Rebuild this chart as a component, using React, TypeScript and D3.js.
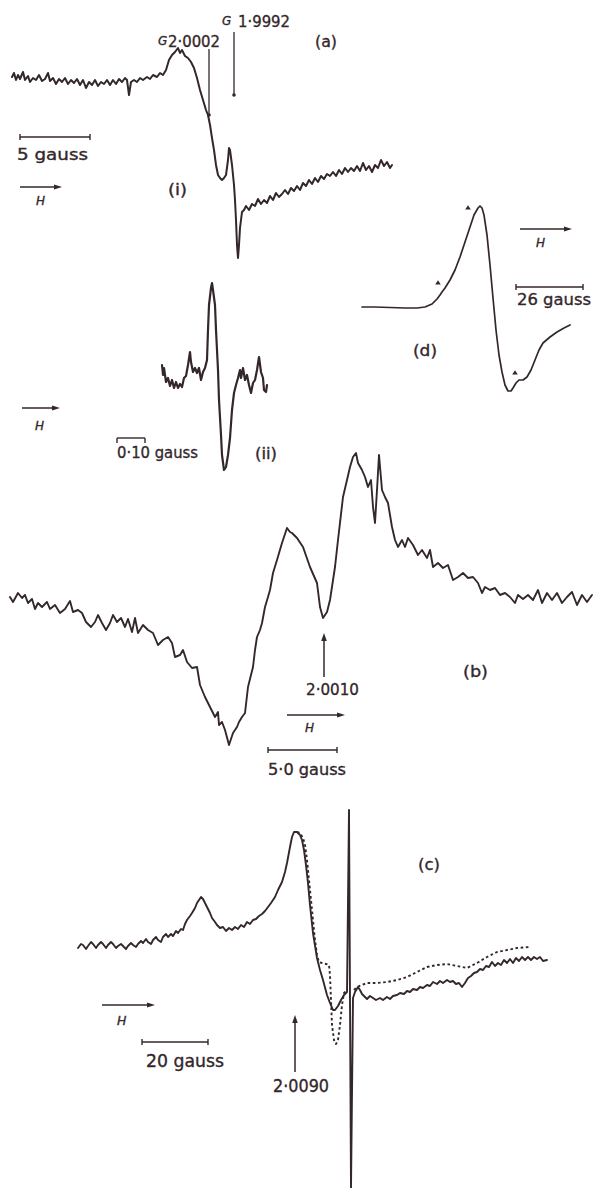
import React from "react";
import * as d3 from "d3";

const INK = "#34272b";
const FONT = "'DejaVu Sans', 'Noto Sans', sans-serif";

type Pt = [number, number];

// ---------- Panel (a)(i): field (arb. units), signal (arb. units, + up) ----------
const traceAi: Pt[] = [
  [0, 3], [2, 7], [4, 0], [6, 5], [8, 1], [11, 8], [13, 0], [16, 4], [18, -2], [21, 2], [24, 0], [27, 5],
  [30, -1], [33, 1], [36, 7], [38, -1], [41, 2], [44, -4], [47, 1], [50, -2], [53, 2], [56, -4], [59, 0],
  [62, -3], [65, 1], [68, -5], [71, 0], [74, -8], [77, -2], [80, -5], [83, 0], [86, -6], [89, -2], [92, -4],
  [95, 0], [98, -5], [101, 0], [104, -4], [107, 1], [110, -2], [113, 2], [115, 0], [117, -15], [119, -2],
  [122, 0], [125, -2], [128, 2], [131, 0], [135, 3], [138, 1], [141, 5], [145, 3], [148, 7], [151, 5],
  [154, 10], [157, 20], [160, 25], [163, 28], [166, 32], [168, 27], [170, 30], [173, 24], [176, 22],
  [179, 18], [182, 12], [185, 2], [188, -10], [191, -20], [194, -30], [196, -35], [198, -45], [200, -58],
  [202, -70], [204, -85], [206, -95], [208, -98], [210, -100], [212, -98], [214, -95], [216, -80],
  [217, -68], [218, -70], [220, -85], [222, -105], [223, -120], [224, -140], [225, -165], [226, -178],
  [227, -165], [228, -148], [230, -132], [232, -130], [234, -126], [237, -130], [240, -124], [243, -126],
  [246, -119], [249, -124], [252, -120], [255, -123], [258, -116], [261, -120], [264, -113], [267, -117],
  [270, -114], [273, -110], [276, -114], [279, -108], [282, -111], [285, -106], [288, -110], [291, -103],
  [294, -106], [297, -100], [300, -104], [303, -98], [306, -102], [309, -96], [312, -99], [315, -94],
  [318, -96], [321, -92], [324, -96], [327, -90], [330, -94], [333, -88], [336, -92], [339, -88],
  [342, -91], [345, -86], [348, -91], [351, -83], [354, -90], [357, -86], [360, -92], [363, -85],
  [366, -88], [369, -80], [372, -86], [375, -82], [378, -88], [380, -85],
];

// ---------- Panel (a)(ii) ----------
const traceAii: Pt[] = [
  [0, 15], [1, 5], [2, 12], [4, -2], [6, 2], [8, -6], [10, 0], [12, -8], [14, -2], [16, -8], [18, -4],
  [20, -7], [22, 2], [24, 4], [26, 15], [28, 28], [29, 18], [31, 8], [33, 12], [35, 7], [37, 12], [39, 0],
  [41, 8], [43, 12], [45, 20], [46, 50], [47, 75], [49, 92], [50, 97], [51, 90], [53, 75], [54, 50],
  [56, 10], [57, -20], [59, -55], [60, -75], [62, -90], [64, -87], [66, -75], [68, -58], [70, -30],
  [72, -13], [74, -5], [76, 2], [78, 10], [79, 2], [81, 12], [83, 0], [85, 5], [87, -5], [89, -13],
  [91, -3], [93, 0], [95, 10], [97, 23], [99, 8], [101, 2], [102, -10], [104, -12], [105, -5],
];

// ---------- Panel (d) ----------
const traceD: Pt[] = [
  [0, 0], [13, 0], [28, -0.5], [43, -1], [55, -1], [63, 0], [70, 3], [75, 8], [78, 12], [80, 15],
  [83, 19], [88, 27], [93, 37], [98, 50], [103, 65], [108, 80], [112, 92], [116, 99], [118, 101],
  [120, 99], [122, 92], [125, 72], [128, 42], [131, 9], [134, -23], [137, -48], [140, -65], [143, -78],
  [146, -84], [149, -84], [151, -81], [154, -76], [157, -73], [161, -73], [165, -70], [169, -63],
  [173, -53], [177, -43], [181, -36], [188, -30], [195, -25], [202, -21], [208, -18],
];
const marksD: Pt[] = [[106, 99], [76, 24], [153, -66]];

// ---------- Panel (b) ----------
const traceB: Pt[] = [
  [0, 0], [3, -5], [8, 4], [12, -1], [15, 2], [18, -6], [22, -2], [25, -12], [28, -6], [32, -10],
  [37, -5], [40, -12], [45, -8], [50, -16], [55, -12], [60, -4], [63, -15], [68, -13], [72, -16],
  [76, -25], [81, -30], [85, -25], [88, -18], [92, -26], [96, -33], [100, -26], [103, -18], [107, -25],
  [111, -21], [115, -30], [118, -22], [122, -35], [125, -21], [128, -36], [133, -28], [138, -33],
  [143, -36], [148, -48], [153, -43], [158, -40], [162, -46], [165, -60], [170, -58], [173, -53],
  [177, -65], [182, -71], [187, -70], [190, -88], [195, -100], [200, -110], [205, -120], [208, -115],
  [209, -128], [212, -125], [215, -133], [219, -148], [223, -136], [227, -130], [229, -125], [232, -120],
  [235, -116], [238, -90], [241, -78], [243, -70], [245, -53], [247, -40], [250, -33], [252, -26],
  [255, -10], [258, 0], [260, 7], [263, 24], [267, 37], [272, 54], [277, 69], [280, 65], [282, 64],
  [287, 59], [293, 50], [300, 30], [307, 14], [310, -10], [313, -21], [317, -15], [320, -3], [325, 30],
  [328, 57], [333, 100], [337, 117], [340, 130], [343, 140], [346, 144], [348, 134], [352, 127],
  [355, 120], [358, 110], [361, 117], [363, 90], [365, 74], [367, 107], [369, 142], [372, 107],
  [375, 100], [378, 94], [382, 70], [385, 57], [388, 50], [392, 57], [395, 50], [398, 59], [403, 52],
  [408, 42], [412, 47], [417, 39], [420, 47], [423, 30], [428, 34], [433, 29], [438, 32], [443, 17],
  [448, 20], [453, 24], [458, 19], [463, 20], [468, 14], [472, 4], [475, 10], [480, 7], [485, 9],
  [490, 2], [495, 4], [500, 0], [505, -6], [508, 2], [513, -2], [518, 2], [523, -3], [528, 7], [532, -6],
  [537, 4], [542, -3], [547, 4], [552, -6], [557, 0], [562, 5], [567, -8], [572, 2], [577, -5], [582, 2],
];

// ---------- Panel (c) ----------
const traceC: Pt[] = [
  [0, 0], [3, 4], [5, 3], [8, -1], [10, 2], [13, 6], [15, 4], [18, 0], [20, 3], [23, 6], [25, 4], [28, 0],
  [30, 3], [33, 6], [35, 4], [38, 0], [40, 2], [43, 4], [45, 2], [48, -1], [50, 2], [53, 5], [55, 3],
  [58, 1], [60, 4], [63, 7], [65, 5], [68, 9], [70, 6], [73, 4], [75, 8], [78, 11], [80, 8], [83, 6],
  [85, 11], [88, 14], [90, 11], [93, 14], [95, 12], [98, 17], [100, 15], [103, 19], [105, 18], [107, 24],
  [109, 28], [112, 32], [114, 35], [117, 40], [119, 45], [121, 48], [123, 51], [125, 49], [127, 45],
  [129, 41], [132, 35], [134, 30], [137, 26], [139, 23], [142, 20], [145, 21], [148, 17], [151, 20],
  [154, 18], [157, 21], [160, 19], [163, 23], [166, 21], [169, 26], [172, 24], [175, 28], [178, 29],
  [181, 32], [184, 34], [187, 37], [190, 41], [193, 45], [197, 51], [200, 58], [204, 66], [207, 76],
  [209, 85], [212, 101], [214, 111], [216, 116], [219, 116], [222, 113], [224, 108], [226, 98], [228, 83],
  [230, 65], [232, 43], [235, 15], [239, -10], [242, -22], [245, -32], [249, -47], [252, -55], [255, -62],
  [257, -62], [260, -58], [263, -52], [266, -47], [269, -44], [271, 138], [273, -240], [275, -50],
  [277, -44], [280, -39], [282, -42], [284, -46], [287, -49], [289, -51], [292, -48], [295, -50],
  [298, -52], [302, -50], [305, -52], [309, -49], [312, -51], [315, -48], [319, -47], [322, -45],
  [326, -46], [329, -43], [332, -44], [335, -41], [339, -42], [342, -39], [345, -40], [349, -37],
  [352, -38], [355, -34], [359, -36], [362, -33], [365, -35], [369, -32], [372, -34], [375, -33],
  [378, -36], [381, -35], [384, -39], [387, -35], [390, -30], [393, -28], [396, -25], [399, -24],
  [402, -21], [405, -22], [408, -18], [411, -19], [414, -14], [417, -18], [420, -15], [423, -17],
  [426, -12], [429, -15], [432, -11], [435, -15], [438, -10], [441, -13], [444, -9], [447, -12],
  [450, -9], [453, -12], [456, -9], [459, -11], [462, -9], [465, -13], [469, -12],
];
const traceCDotted: (Pt | null)[] = [
  [219, 116], [222, 115], [225, 110], [227, 103], [229, 88], [231, 68], [233, 48], [235, 28], [237, 8],
  [239, -7], [241, -14], [244, -15], [248, -16], [251, -17], [252, -27], [253, -52], [254, -77],
  [256, -92], [258, -96], [260, -92], [262, -77], [264, -57], [266, -45], [269, -42], null,
  [276, -42], [279, -39], [284, -37], [289, -35], [299, -35], [309, -34], [319, -32], [329, -29],
  [339, -24], [349, -19], [359, -17], [369, -16], [379, -18], [389, -20], [399, -15], [409, -9],
  [419, -4], [429, -2], [439, 0], [452, 1],
];

// ---------- scales (one pair per panel) ----------
function makeScales(fd: number[], pr: number[], sd: number[], vr: number[]) {
  return { x: d3.scaleLinear().domain(fd).range(pr), y: d3.scaleLinear().domain(sd).range(vr) };
}
type Sc = ReturnType<typeof makeScales>;
const sA = makeScales([0, 380], [12, 392], [-180, 40], [260, 40]);
const sAii = makeScales([0, 105], [162, 267], [-100, 100], [480, 280]);
const sD = makeScales([0, 208], [362, 570], [-90, 110], [397, 197]);
const sB = makeScales([0, 582], [10, 592], [-180, 160], [777, 437]);
const sC = makeScales([0, 469], [78, 547], [-240, 140], [1188, 808]);

// ---------- annotations ----------
type Lab = { text: string; f: number; s: number; size: number; len?: number; italic?: boolean };
const labelsA: Lab[] = [
  { text: "G", f: 146, s: 35, size: 12, italic: true },
  { text: "2·0002", f: 156, s: 33, size: 16, len: 52 },
  { text: "G", f: 210, s: 55, size: 12, italic: true },
  { text: "1·9992", f: 226, s: 53, size: 16, len: 52 },
  { text: "(a)", f: 303, s: 33, size: 15, len: 22 },
  { text: "5 gauss", f: 5, s: -80, size: 15, len: 71 },
  { text: "H", f: 24, s: -125, size: 12, italic: true },
  { text: "(i)", f: 156, s: -115, size: 15, len: 19 },
];
const gLinesA = [{ f: 197, top: 31, bottom: -35 }, { f: 222, top: 48, bottom: -15 }];
const barA = { from: 8, to: 78, at: -57, ticks: "both" };
const arrowA = { from: 8, to: 50, at: -107 };

const labelsAii: Lab[] = [
  { text: "H", f: -127, s: -50, size: 12, italic: true },
  { text: "0·10 gauss", f: -45, s: -78, size: 16, len: 81 },
  { text: "(ii)", f: 93, s: -79, size: 15, len: 22 },
];
const barAii = { from: -45, to: -17, at: -58, ticks: "down" };
const arrowAii = { from: -140, to: -102, at: -28 };

const labelsD: Lab[] = [
  { text: "H", f: 174, s: 60, size: 12, italic: true },
  { text: "26 gauss", f: 155, s: 2, size: 15.5, len: 74 },
  { text: "(d)", f: 51, s: -49, size: 15.5, len: 24 },
];
const barD = { from: 154, to: 221, at: 20, ticks: "both" };
const arrowD = { from: 158, to: 210, at: 78 };

const labelsB: Lab[] = [
  { text: "2·0010", f: 296, s: -98, size: 16, len: 53 },
  { text: "H", f: 295, s: -135, size: 12, italic: true },
  { text: "5·0 gauss", f: 258, s: -178, size: 16, len: 78 },
  { text: "(b)", f: 453, s: -80, size: 15.5, len: 25 },
];
const barB = { from: 258, to: 327, at: -153, ticks: "both" };
const arrowB = { from: 277, to: 335, at: -118 };
const upArrowB = { f: 314, top: -36, bottom: -80 };

const labelsC: Lab[] = [
  { text: "H", f: 39, s: -77, size: 12.5, italic: true },
  { text: "20 gauss", f: 68, s: -119, size: 17, len: 78 },
  { text: "2·0090", f: 195, s: -144, size: 17, len: 56 },
  { text: "(c)", f: 340, s: 78, size: 16, len: 22 },
];
const barC = { from: 64, to: 130, at: -94, ticks: "both" };
const arrowC = { from: 24, to: 77, at: -57 };
const upArrowC = { f: 217, top: -67, bottom: -124 };

// ---------- drawing helpers ----------
function Trace({ data, sc, w = 1.6, dash }: { data: (Pt | null)[]; sc: Sc; w?: number; dash?: string }) {
  const line = d3
    .line<Pt | null>()
    .defined((d) => d !== null)
    .x((d) => sc.x((d as Pt)[0]))
    .y((d) => sc.y((d as Pt)[1]));
  return (
    <path d={line(data) || ""} fill="none" stroke={INK} strokeWidth={w} strokeLinejoin="round"
      strokeLinecap={dash ? "butt" : "round"} strokeDasharray={dash} />
  );
}

function ScaleBar({ sc, bar }: { sc: Sc; bar: { from: number; to: number; at: number; ticks: string } }) {
  const x1 = sc.x(bar.from), x2 = sc.x(bar.to), y = sc.y(bar.at);
  const up = bar.ticks === "down" ? 0 : 3, dn = bar.ticks === "down" ? 5 : 3;
  return (
    <g stroke={INK} strokeWidth={1.4}>
      <line x1={x1} x2={x2} y1={y} y2={y} />
      <line x1={x1} x2={x1} y1={y - up} y2={y + dn} />
      <line x1={x2} x2={x2} y1={y - up} y2={y + dn} />
    </g>
  );
}

function FieldArrow({ sc, a }: { sc: Sc; a: { from: number; to: number; at: number } }) {
  const x1 = sc.x(a.from), x2 = sc.x(a.to), y = sc.y(a.at);
  return (
    <g>
      <line x1={x1} x2={x2 - 4} y1={y} y2={y} stroke={INK} strokeWidth={1.4} />
      <path d={`M${x2},${y}L${x2 - 8},${y - 2.4}L${x2 - 8},${y + 2.4}Z`} fill={INK} />
    </g>
  );
}

function UpArrow({ sc, a }: { sc: Sc; a: { f: number; top: number; bottom: number } }) {
  const x = sc.x(a.f), y1 = sc.y(a.top), y2 = sc.y(a.bottom);
  return (
    <g>
      <line x1={x} x2={x} y1={y1 + 4} y2={y2} stroke={INK} strokeWidth={1.5} />
      <path d={`M${x},${y1}L${x - 2.8},${y1 + 8}L${x + 2.8},${y1 + 8}Z`} fill={INK} />
    </g>
  );
}

function Labels({ sc, labels }: { sc: Sc; labels: Lab[] }) {
  return (
    <g fill={INK} stroke={INK} strokeWidth={0.35} fontFamily={FONT}>
      {labels.map((l, i) => (
        <text key={i} x={sc.x(l.f)} y={sc.y(l.s)} fontSize={l.size}
          fontStyle={l.italic ? "italic" : "normal"}
          textLength={l.len} lengthAdjust={l.len ? "spacingAndGlyphs" : undefined}>
          {l.text}
        </text>
      ))}
    </g>
  );
}

export default function App() {
  return (
    <svg width={594} height={1188} viewBox="0 0 594 1188"
      style={{ position: "absolute", left: 0, top: 0, background: "#ffffff" }}>
      <rect x={0} y={0} width={594} height={1188} fill="#ffffff" />

      {/* (a)(i) */}
      <Trace data={traceAi} sc={sA} w={2} />
      {gLinesA.map((g, i) => (
        <g key={i}>
          <line x1={sA.x(g.f)} x2={sA.x(g.f)} y1={sA.y(g.top)} y2={sA.y(g.bottom)} stroke={INK} strokeWidth={1.3} />
          <circle cx={sA.x(g.f)} cy={sA.y(g.bottom)} r={1.8} fill={INK} />
        </g>
      ))}
      <ScaleBar sc={sA} bar={barA} />
      <FieldArrow sc={sA} a={arrowA} />
      <Labels sc={sA} labels={labelsA} />

      {/* (a)(ii) */}
      <Trace data={traceAii} sc={sAii} w={2.2} />
      <ScaleBar sc={sAii} bar={barAii} />
      <FieldArrow sc={sAii} a={arrowAii} />
      <Labels sc={sAii} labels={labelsAii} />

      {/* (d) */}
      <Trace data={traceD} sc={sD} w={1.7} />
      {marksD.map((m, i) => {
        const x = sD.x(m[0]), y = sD.y(m[1]);
        return <path key={i} d={`M${x},${y - 2.8}L${x - 2.8},${y + 1.6}L${x + 2.8},${y + 1.6}Z`} fill={INK} />;
      })}
      <ScaleBar sc={sD} bar={barD} />
      <FieldArrow sc={sD} a={arrowD} />
      <Labels sc={sD} labels={labelsD} />

      {/* (b) */}
      <Trace data={traceB} sc={sB} w={1.9} />
      <UpArrow sc={sB} a={upArrowB} />
      <ScaleBar sc={sB} bar={barB} />
      <FieldArrow sc={sB} a={arrowB} />
      <Labels sc={sB} labels={labelsB} />

      {/* (c) */}
      <Trace data={traceCDotted} sc={sC} w={1.9} dash="2.6 2.6" />
      <Trace data={traceC} sc={sC} w={1.9} />
      <UpArrow sc={sC} a={upArrowC} />
      <ScaleBar sc={sC} bar={barC} />
      <FieldArrow sc={sC} a={arrowC} />
      <Labels sc={sC} labels={labelsC} />
    </svg>
  );
}
